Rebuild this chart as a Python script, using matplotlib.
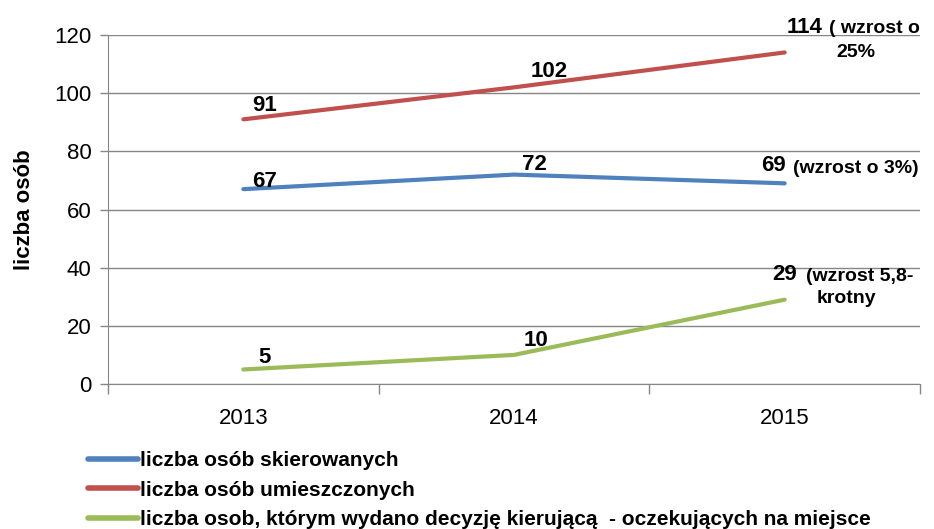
import matplotlib
matplotlib.use("Agg")
import matplotlib.pyplot as plt

plt.rcParams['font.family'] = ['Liberation Sans', 'DejaVu Sans']

# data
years = ["2013", "2014", "2015"]
skierowanych = [67, 72, 69]
umieszczonych = [91, 102, 114]
oczekujacych = [5, 10, 29]
series_names = [
    "liczba osób skierowanych",
    "liczba osób umieszczonych",
    "liczba osob, którym wydano decyzję kierującą  - oczekujących na miejsce",
]
colors = ["#4F81BD", "#C0504D", "#9BBB59"]

fig = plt.figure(figsize=(9.34, 5.29), dpi=100)
ax = fig.add_axes([108 / 934, 1 - 384 / 529, 812 / 934, 349 / 529])

x = list(range(len(years)))
lines = []
for vals, col, name in zip([skierowanych, umieszczonych, oczekujacych], colors, series_names):
    ln, = ax.plot(x, vals, color=col, lw=3, solid_capstyle='round', label=name, zorder=3)
    lines.append(ln)

ax.set_xlim(-0.5, 2.5)
ax.set_ylim(0, 120)
ax.set_yticks(range(0, 121, 20))
ax.set_xticks(x)
ax.set_xticklabels(years)
ax.set_xticks([-0.5, 0.5, 1.5, 2.5], minor=True)
ax.tick_params(axis='x', which='major', length=0, pad=17, labelsize=16)
ax.tick_params(axis='x', which='minor', length=7, color='#868686', width=1)
ax.tick_params(axis='y', length=6, color='#868686', width=1, labelsize=16, pad=6)
ax.yaxis.grid(True, color='#868686', lw=1)
ax.set_axisbelow(True)
for s in ['top', 'right']:
    ax.spines[s].set_visible(False)
for s in ['left', 'bottom']:
    ax.spines[s].set_color('#868686')
ax.set_ylabel("liczba osób", fontsize=16, fontweight='bold', labelpad=14)

big = dict(fontsize=16, fontweight='bold', textcoords='offset pixels', va='center')
small = dict(fontsize=14, fontweight='bold', textcoords='offset pixels', va='center')

# labels for 2013 and 2014
offs_sk = [(21, 8), (20, 10)]
offs_um = [(21, 14), (35, 16)]
offs_oc = [(21, 12), (22, 14)]
for vals, offs in [(skierowanych, offs_sk), (umieszczonych, offs_um), (oczekujacych, offs_oc)]:
    for i in range(2):
        ax.annotate(str(vals[i]), (x[i], vals[i]), xytext=offs[i], ha='center', **big)

# 2015 labels with notes
ax.annotate(str(umieszczonych[2]), (2, umieszczonych[2]), xytext=(2, 25), ha='left', **big)
ax.annotate("( wzrost o", (2, umieszczonych[2]), xytext=(44, 24), ha='left', **small)
ax.annotate("25%", (2, umieszczonych[2]), xytext=(71, 0), ha='center', **small)

ax.annotate(str(skierowanych[2]), (2, skierowanych[2]), xytext=(-24, 18), ha='left', **big)
ax.annotate("(wzrost o 3%)", (2, skierowanych[2]), xytext=(8, 15), ha='left', **small)

ax.annotate(str(oczekujacych[2]), (2, oczekujacych[2]), xytext=(-12, 25), ha='left', **big)
ax.annotate("(wzrost 5,8-", (2, oczekujacych[2]), xytext=(21, 23), ha='left', **small)
ax.annotate("krotny", (2, oczekujacych[2]), xytext=(62, 1), ha='center', **small)

for a in ax.texts:
    a.set_annotation_clip(False)

leg = fig.legend(handles=lines, loc='upper left', bbox_to_anchor=(80 / 934, 1 - 443 / 529),
                 frameon=False, prop={'size': 15, 'weight': 'bold'}, handlelength=2.4,
                 handletextpad=0.1, labelspacing=0.5, borderaxespad=0)
for h in leg.get_lines():
    h.set_linewidth(4)

fig.savefig("out.png", dpi=100)
